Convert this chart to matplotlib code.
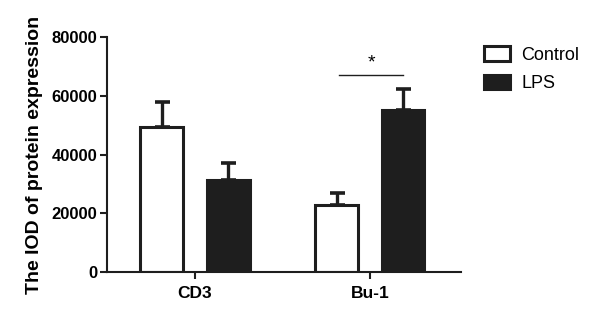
import numpy as np
import matplotlib
matplotlib.use("Agg")
import matplotlib.pyplot as plt

plt.rcParams["font.family"] = ["Liberation Sans", "DejaVu Sans"]

groups = ["CD3", "Bu-1"]
series = ["Control", "LPS"]
control_mean = [49400, 22800]
control_err = [8600, 4200]
lps_mean = [31200, 55200]
lps_err = [5800, 7100]
sig_level = 67000

fig = plt.figure(figsize=(6, 3.21), dpi=100)
ax = fig.add_axes([0.178, 0.1526, 0.59, 0.732])

x = np.arange(len(groups))
w = 0.245
off = 0.19
for xs, means, errs, fc, lab in [(x - off, control_mean, control_err, "white", "Control"),
                                 (x + off, lps_mean, lps_err, "#1e1e1e", "LPS")]:
    ax.bar(xs, means, w, color=fc, edgecolor="#1e1e1e", linewidth=2.2, label=lab, zorder=2)
    ax.errorbar(xs, means, yerr=[np.zeros(len(errs)), errs], fmt="none", ecolor="#1e1e1e",
                elinewidth=2.4, capsize=5.4, capthick=2.6, zorder=1)

# significance bar over Bu-1
ax.plot([0.823, 1.189], [sig_level, sig_level], color="#1e1e1e", lw=1.0)
ax.text(1.01, sig_level + 1200, "*", ha="center", va="bottom", fontsize=14)

ax.set_xlim(-0.503, 1.52)
ax.set_ylim(0, 80000)
ax.set_yticks([0, 20000, 40000, 60000, 80000])
ax.set_xticks(x)
ax.set_xticklabels(groups, fontweight="bold", fontsize=12.5)
for t in ax.get_yticklabels():
    t.set_fontweight("bold")
    t.set_fontsize(12)
ax.tick_params(width=1.5, length=5, color="#1e1e1e", pad=2)
ax.tick_params(axis="x", pad=5)
for s in ["top", "right"]:
    ax.spines[s].set_visible(False)
for s in ["left", "bottom"]:
    ax.spines[s].set_linewidth(1.5)
    ax.spines[s].set_color("#1e1e1e")
ax.set_ylabel("The IOD of protein expression", fontweight="bold", fontsize=14, labelpad=6)

ax.legend(loc="upper left", bbox_to_anchor=(1.02, 1.03), frameon=False, fontsize=13,
          handlelength=1.45, handleheight=0.85, handletextpad=0.6, labelspacing=0.6)

fig.savefig("out.png", dpi=100)
